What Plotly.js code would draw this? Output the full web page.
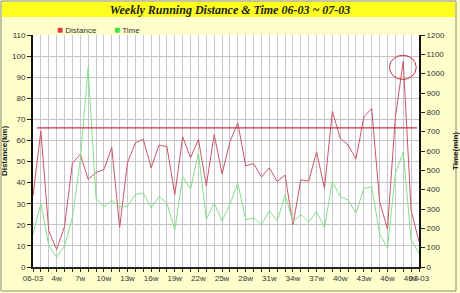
<!DOCTYPE html>
<html>
<head>
<meta charset="utf-8">
<script src="https://cdn.plot.ly/plotly-3.0.1.min.js"></script>
<style>html,body{margin:0;padding:0;background:#fff;}#chart{width:460px;height:293px;}</style>
</head>
<body>
<div id="chart"></div>
<script>
const categories = ["06-03","2w","3w","4w","5w","6w","7w","8w","9w","10w","11w","12w","13w","14w","15w","16w","17w","18w","19w","20w","21w","22w","23w","24w","25w","26w","27w","28w","29w","30w","31w","32w","33w","34w","35w","36w","37w","38w","39w","40w","41w","42w","43w","44w","45w","46w","47w","48w","49w","07-03"];
const shownTickLabels = ["06-03","4w","7w","10w","13w","16w","19w","22w","25w","28w","31w","34w","37w","40w","43w","46w","49w","07-03"];
const distanceKm = [33.7,64.5,17.2,8.3,19.2,49.1,53.5,41.6,44.8,46.2,56.7,18.7,49.5,58.9,60.6,47.0,57.8,57.1,34.3,61.7,51.8,60.5,38.5,62.8,44.2,59.4,68.3,47.9,49.1,42.7,47.0,40.5,43.6,20.0,41.3,40.7,54.6,37.3,73.8,61.0,57.8,51.2,71.2,75.1,31.0,18.0,71.0,97.5,26.8,12.0];
const timeMin = [170,330,110,50,108,255,550,1030,355,312,344,312,315,375,383,305,365,330,192,467,402,590,248,331,238,325,434,244,255,218,291,238,372,235,272,232,287,203,441,364,347,278,407,415,170,98,484,593,141,70];
const targetKm = 66;
const seriesNames = ["Distance","Time"];
const chartTitle = "Weekly Running Distance & Time 06-03 ~ 07-03";

const W = 460, H = 293;
const M = {l:33, r:41, t:35, b:26};
const PW = W - M.l - M.r, PH = H - M.t - M.b;
const px = x => (x - M.l) / PW;
const py = y => (H - M.b - y) / PH;

const lineRed = '#cc5565', lineGreen = '#86e086';
const legRed = '#e03c3c', legGreen = '#3ee03e';

const traces = [
  {x: categories, y: distanceKm, name: seriesNames[0], type:'scatter', mode:'lines',
   line:{color:lineRed, width:1}, yaxis:'y', showlegend:false, hoverinfo:'none'},
  {x: categories, y: timeMin, name: seriesNames[1], type:'scatter', mode:'lines',
   line:{color:lineGreen, width:1}, yaxis:'y2', showlegend:false, hoverinfo:'none'}
];

const peak = Math.max(...distanceKm);
const peakIdx = distanceKm.indexOf(peak);

const tickFont = {family:'Liberation Sans, Arial, sans-serif', size:8, color:'#333'};

const layout = {
  width: W, height: H,
  margin: M,
  paper_bgcolor: '#ffffcc',
  plot_bgcolor: '#ffffff',
  showlegend: false,
  title: {text: chartTitle, x: 0.5, xref:'container', y: 1 - 10/H, yref:'container', yanchor:'middle', xanchor:'center',
    font:{family:'Liberation Serif, Times New Roman, serif', size:12, color:'#222', weight:'bold', style:'italic'}},
  xaxis: {
    type:'category', categoryorder:'array', categoryarray: categories,
    range:[0, categories.length-1],
    tickmode:'array', tickvals: categories,
    ticktext: categories.map(c => shownTickLabels.includes(c) ? c : ''),
    tickangle: 0, ticks:'outside', ticklen:3, tickcolor:'#333', tickwidth:1,
    showgrid:true, gridcolor:'#c6c6d0', gridwidth:1,
    showline:true, linecolor:'#222', linewidth:1.5,
    tickfont: tickFont, zeroline:false, automargin:false
  },
  yaxis: {
    range:[0,110], dtick:10, tick0:0,
    ticks:'outside', ticklen:4, tickcolor:'#222',
    showgrid:true, gridcolor:'#c4c4c4', gridwidth:1,
    showline:true, linecolor:'#111', linewidth:2,
    zeroline:false, tickfont: tickFont, automargin:false,
    title:{text:'Distance(km)', font:{family:'Liberation Sans, Arial, sans-serif', size:8, color:'#222', weight:'bold'}, standoff:6}
  },
  yaxis2: {
    range:[0,1200], dtick:100, tick0:0, overlaying:'y', side:'right', anchor:'x',
    ticks:'outside', ticklen:4, tickcolor:'#222',
    showgrid:false, showline:true, linecolor:'#111', linewidth:2,
    zeroline:false, tickfont: tickFont, automargin:false,
    title:{text:'Time(min)', font:{family:'Liberation Sans, Arial, sans-serif', size:8, color:'#222', weight:'bold'}, standoff:8}
  },
  shapes: [
    {type:'rect', xref:'paper', yref:'paper', x0:px(1), x1:px(456), y0:py(291), y1:py(1),
     line:{color:'#8a8a70', width:1}, fillcolor:'rgba(0,0,0,0)', layer:'below'},
    {type:'rect', xref:'paper', yref:'paper', x0:px(2), x1:px(455), y0:py(17), y1:py(2),
     line:{width:0}, fillcolor:'#ffff1e', layer:'below'},
    {type:'line', xref:'paper', yref:'y', x0:px(37), x1:px(417), y0:targetKm, y1:targetKm,
     line:{color:'#cc3344', width:1.2}},
    {type:'circle', xref:'x', yref:'y', x0:peakIdx-1.75, x1:peakIdx+1.65, y0:peak-8.6, y1:peak+2.9,
     line:{color:'#c83040', width:1}}
  ],
  annotations: [
    {xref:'paper', yref:'paper', x:px(55), y:py(30), xanchor:'left', yanchor:'middle', showarrow:false,
     text:'<span style="color:'+legRed+';font-size:10px">■</span> '+seriesNames[0], font:{family:'Liberation Sans, Arial, sans-serif', size:8, color:'#333'}},
    {xref:'paper', yref:'paper', x:px(112), y:py(30), xanchor:'left', yanchor:'middle', showarrow:false,
     text:'<span style="color:'+legGreen+';font-size:10px">■</span> '+seriesNames[1], font:{family:'Liberation Sans, Arial, sans-serif', size:8, color:'#333'}}
  ]
};

Plotly.newPlot('chart', traces, layout, {staticPlot:true, displayModeBar:false});
</script>
</body>
</html>
